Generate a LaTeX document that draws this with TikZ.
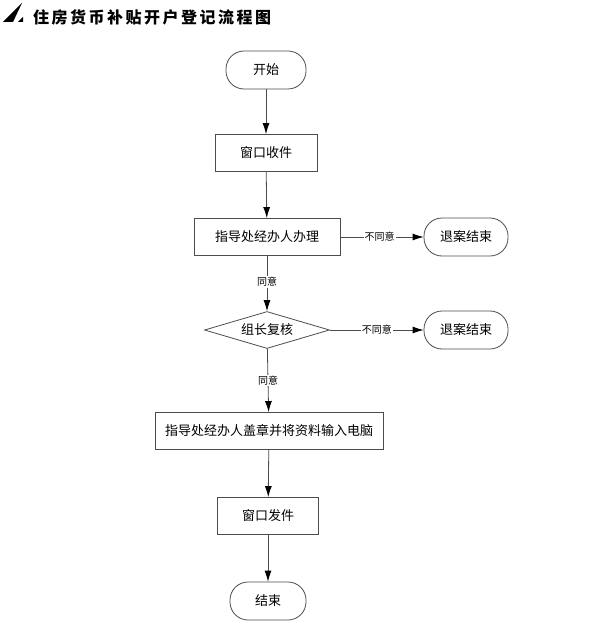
\documentclass[tikz,border=0pt]{standalone}
\usepackage{fontspec}
\setmainfont{Noto Sans CJK SC}
\usetikzlibrary{shapes.geometric,arrows.meta}
\newcommand{\tgap}{\hspace{2.5pt}}
\tikzset{
  px/.style={x=1pt,y=-1pt},
  flowline/.style={draw=black!70,line width=.8pt},
  flowarrow/.style={flowline,-{Latex[length=11pt,width=7pt,black]}},
  boxtext/.style={font=\fontsize{13}{15}\selectfont},
  proc/.style={draw=black!70,line width=.9pt,rectangle,minimum height=37pt,boxtext},
  term/.style={draw=black!70,line width=.8pt,rectangle,rounded corners=18pt,minimum height=38pt,boxtext},
  decide/.style={draw=black!70,line width=.8pt,diamond,aspect=3.4,inner sep=0pt,minimum width=125pt,minimum height=37pt,boxtext},
  tag/.style={fill=white,inner sep=1pt,font=\fontsize{10}{11}\selectfont}
}
\begin{document}
\begin{tikzpicture}[px]
\useasboundingbox (0,0) rectangle (600,628);
\fill[black] (3,22) -- (22,3) -- (13,22) -- cycle;
\fill[black] (18,22) -- (23,17) -- (23,22) -- cycle;
\node[anchor=west,inner sep=0pt,font=\fontsize{16}{18}\selectfont\bfseries] (title) at (33,17) {住\tgap 房\tgap 货\tgap 币\tgap 补\tgap 贴\tgap 开\tgap 户\tgap 登\tgap 记\tgap 流\tgap 程\tgap 图};
\node[term,minimum width=80pt] (start) at (266,70) {开始};
\node[proc,minimum width=102pt] (recv) at (266,153) {窗口收件};
\node[proc,minimum width=146pt] (handle) at (267,237) {指导处经办人办理};
\node[term,minimum width=84pt] (quit1) at (466,237) {退案结束};
\node[decide] (check) at (267,330) {组长复核};
\node[term,minimum width=84pt] (quit2) at (466,330) {退案结束};
\node[proc,minimum width=228pt] (stamp) at (269,431) {指导处经办人盖章并将资料输入电脑};
\node[proc,minimum width=101pt] (issue) at (268,516) {窗口发件};
\node[term,minimum width=76pt] (finish) at (268,601) {结束};
\draw[flowarrow] (start) -- (recv);
\draw[flowarrow] (recv) -- (handle);
\draw[flowarrow] (handle) -- node[tag,pos=.47] {同意} (check);
\draw[flowarrow] (handle) -- node[tag,pos=.47] {不同意} (quit1);
\draw[flowarrow] (check) -- node[tag,pos=.5] {不同意} (quit2);
\draw[flowarrow] (check) -- node[tag,pos=.5] {同意} (stamp);
\draw[flowarrow] (stamp) -- (issue);
\draw[flowarrow] (issue) -- (finish);
\end{tikzpicture}
\end{document}
